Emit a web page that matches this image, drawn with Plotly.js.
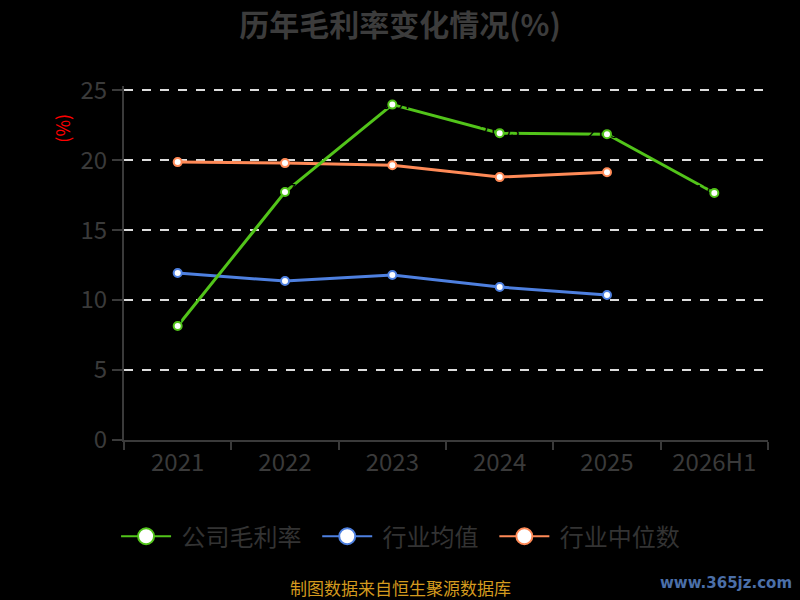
<!DOCTYPE html>
<html>
<head>
<meta charset="utf-8">
<script src="https://cdn.plot.ly/plotly-3.0.1.min.js"></script>
<style>
  html, body { margin: 0; padding: 0; background: #000; }
  #chart { width: 800px; height: 600px; }
</style>
</head>
<body>
<div id="chart"></div>
<script>
// 年份
const years = ['2021', '2022', '2023', '2024', '2025', '2026H1'];
// 公司毛利率
const companyMargin = [8.15, 17.72, 23.97, 21.93, 21.86, 17.65];
// 行业均值
const industryAvg = [11.93, 11.36, 11.79, 10.93, 10.36];
// 行业中位数
const industryMedian = [19.86, 19.79, 19.64, 18.79, 19.14];

const FONT = '"Noto Sans CJK SC", "Noto Sans", sans-serif';
const green = '#52c41a', blue = '#4e80e0', orange = '#ff8a57';

function series(y, mode, color, extra) {
  return Object.assign({
    x: years.slice(0, y.length),
    y: y,
    type: 'scatter',
    mode: mode,
    line: { color: color, width: 3 },
    marker: { size: 8, color: '#fff', line: { color: color, width: 2 } },
    showlegend: false,
    hoverinfo: 'x+y'
  }, extra || {});
}

// legend-only copies with bigger symbols
function legendItem(name, color) {
  return {
    x: [null], y: [null], name: '\u00a0' + name + '\u00a0\u00a0', type: 'scatter', mode: 'lines+markers',
    line: { color: color, width: 2 },
    marker: { size: 20, color: '#fff', line: { color: color, width: 2 } }
  };
}

var data = [
  series(industryAvg, 'lines+markers', blue),
  series(industryMedian, 'lines+markers', orange),
  series(companyMargin, 'lines', green),
  // black value labels sit on the green line, under its markers
  series(companyMargin, 'text', green, {
    text: companyMargin.map(v => v.toFixed(2)),
    textposition: 'middle center',
    textfont: { family: FONT, size: 16, color: '#000' }
  }),
  series(companyMargin, 'markers', green),
  legendItem('公司毛利率', green),
  legendItem('行业均值', blue),
  legendItem('行业中位数', orange)
];

var layout = {
  width: 800,
  height: 600,
  paper_bgcolor: '#000',
  plot_bgcolor: '#000',
  font: { family: FONT, color: '#333' },
  title: {
    text: '<b>历年毛利率变化情况(%)</b>',
    font: { family: FONT, size: 30, color: '#3c3c3c' },
    x: 0.5, xanchor: 'center', y: 0.958, yanchor: 'middle'
  },
  margin: { l: 124, r: 32, t: 86, b: 160 },
  xaxis: {
    type: 'category',
    range: [-0.5, 5.5],
    showline: true, linecolor: '#3a3a3a', linewidth: 2,
    ticks: 'outside', tickson: 'boundaries', ticklen: 8, tickwidth: 2, tickcolor: '#3a3a3a',
    tickfont: { family: FONT, size: 24, color: '#3a3a3a' },
    showgrid: false, zeroline: false
  },
  yaxis: {
    range: [0, 25.3], tickvals: [0, 5, 10, 15, 20, 25],
    showline: true, linecolor: '#3a3a3a', linewidth: 2,
    ticks: 'outside', ticklen: 10, tickwidth: 2, tickcolor: '#3a3a3a',
    tickfont: { family: FONT, size: 24, color: '#3a3a3a' },
    showgrid: true, gridcolor: '#dddddd', gridwidth: 2, griddash: 'dash',
    zeroline: false
  },
  legend: {
    orientation: 'h',
    x: 0.438, xanchor: 'center',
    y: -0.273, yanchor: 'middle',
    font: { family: FONT, size: 24, color: '#333' },
    bgcolor: 'rgba(0,0,0,0)',
    itemwidth: 50
  },
  annotations: [
    {
      text: '(%)', textangle: -90,
      xref: 'paper', yref: 'paper', x: -0.096, y: 0.88,
      xanchor: 'center', yanchor: 'middle', showarrow: false,
      font: { family: FONT, size: 18, color: '#ff0000' }
    },
    {
      text: '制图数据来自恒生聚源数据库',
      xref: 'paper', yref: 'paper', x: 0.4286, y: -0.418,
      xanchor: 'center', yanchor: 'middle', showarrow: false,
      font: { family: FONT, size: 17, color: '#d49a1e' }
    },
    {
      text: '<b>www.365jz.com</b>',
      xref: 'paper', yref: 'paper', x: 1.04, y: -0.405,
      xanchor: 'right', yanchor: 'middle', showarrow: false,
      font: { family: '"DejaVu Sans", sans-serif', size: 15, color: '#4b6fa8' }
    }
  ]
};

Plotly.newPlot('chart', data, layout, { displayModeBar: false, staticPlot: true });
</script>
</body>
</html>
